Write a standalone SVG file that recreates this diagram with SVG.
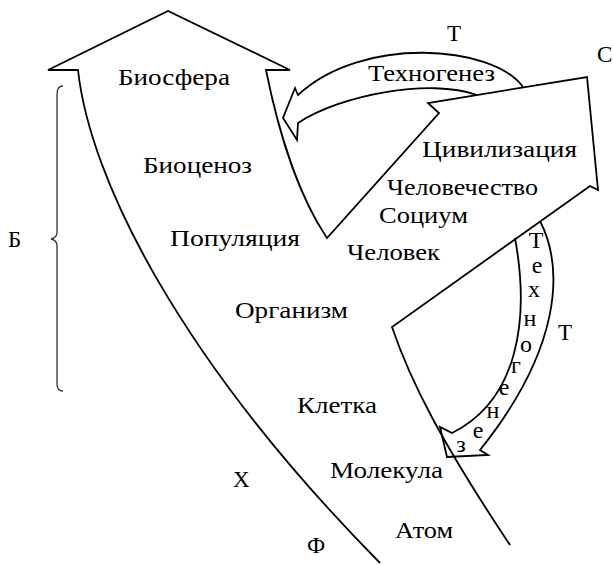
<svg xmlns="http://www.w3.org/2000/svg" width="613" height="565" viewBox="0 0 613 565">
<style>
.ln{fill:none;stroke:#000;stroke-width:1.8;stroke-linejoin:miter}
.t{font-family:"Liberation Serif","Times New Roman",serif;font-size:23px;fill:#000}
.v{font-family:"Liberation Serif","Times New Roman",serif;font-size:24px;fill:#000;text-anchor:middle}
</style>
<rect width="613" height="565" fill="#fff"/>
<g id="connectors">
<path id="main-outline" class="ln" d="M380,563 C180,360 90,180 78,70 L48,70 L168,11 L290,70 L266,70 C278,130 298,195 327,238 L439,113 L428,103 L587,77 L598,190 L590,186 L392,327 C410,380 440,440 510,545"/>
<path id="techno-top" class="ln" d="M523,87 C493,45 362,35 298,95 L295,88 L283,118 L297,140 L298,123 C340,95 430,78 477,95"/>
<path id="techno-right" class="ln" d="M540,221 C565,270 560,350 480,450 L488,455 L447,457 L440,427 L452,433 C518,400 530,320 515,238"/>
<path id="brace" fill="none" stroke="#333" stroke-width="1.3" d="M63,86 Q57,86 57,94 L57,232 Q57,238 51,239 Q57,240 57,246 L57,384 Q57,391 63,391"/>
</g>
<g id="labels">
<g id="biosfera"><text class="t" x="118" y="85" textLength="112" lengthAdjust="spacingAndGlyphs">Биосфера</text></g>
<g id="biocenoz"><text class="t" x="143" y="173" textLength="109" lengthAdjust="spacingAndGlyphs">Биоценоз</text></g>
<g id="populyaciya"><text class="t" x="170" y="246" textLength="130" lengthAdjust="spacingAndGlyphs">Популяция</text></g>
<g id="organizm"><text class="t" x="235" y="318" textLength="113" lengthAdjust="spacingAndGlyphs">Организм</text></g>
<g id="kletka"><text class="t" x="297" y="413" textLength="80" lengthAdjust="spacingAndGlyphs">Клетка</text></g>
<g id="molekula"><text class="t" x="330" y="478" textLength="113" lengthAdjust="spacingAndGlyphs">Молекула</text></g>
<g id="atom"><text class="t" x="395" y="538" textLength="58" lengthAdjust="spacingAndGlyphs">Атом</text></g>
<g id="chelovek"><text class="t" x="347" y="260" textLength="93" lengthAdjust="spacingAndGlyphs">Человек</text></g>
<g id="socium"><text class="t" x="379" y="223" textLength="89" lengthAdjust="spacingAndGlyphs">Социум</text></g>
<g id="chelovechestvo"><text class="t" x="387" y="195" textLength="151" lengthAdjust="spacingAndGlyphs">Человечество</text></g>
<g id="civilizaciya"><text class="t" x="422" y="157" textLength="155" lengthAdjust="spacingAndGlyphs">Цивилизация</text></g>
<g id="tekhnogenez-top"><text class="t" x="368" y="81" textLength="127" lengthAdjust="spacingAndGlyphs">Техногенез</text></g>
<g id="T-top"><text class="t" x="447" y="41">Т</text></g>
<g id="S"><text class="t" x="597" y="62">С</text></g>
<g id="T-right"><text class="t" x="558" y="340">Т</text></g>
<g id="X"><text class="t" x="233" y="487">Х</text></g>
<g id="F"><text class="t" x="307" y="553">Ф</text></g>
<g id="B"><text class="t" x="8" y="247">Б</text></g>
<g id="tekhnogenez-vertical">
<text class="v" x="536" y="248">Т</text>
<text class="v" x="537" y="273">е</text>
<text class="v" x="534" y="297">х</text>
<text class="v" x="530" y="326">н</text>
<text class="v" x="526" y="352">о</text>
<text class="v" x="516" y="373">г</text>
<text class="v" x="504" y="395">е</text>
<text class="v" x="493" y="418">н</text>
<text class="v" x="478" y="438">е</text>
<text class="v" x="461" y="452">з</text>
</g>
</g>
</svg>
